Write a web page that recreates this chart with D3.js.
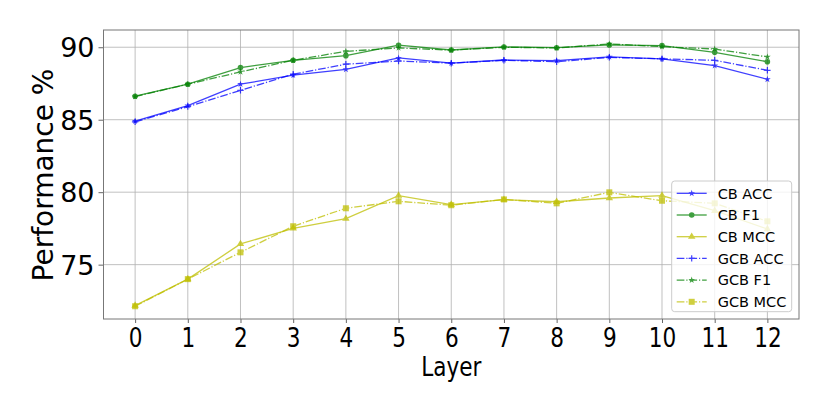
<!DOCTYPE html>
<html><head><meta charset="utf-8">
<script src="https://cdn.jsdelivr.net/npm/d3@7"></script>
<style>body{margin:0;background:#fff}svg{display:block;font-family:"DejaVu Sans",sans-serif}</style>
</head><body><svg id="c" width="830" height="415"></svg>
<script>
const layers = [0,1,2,3,4,5,6,7,8,9,10,11,12];
const cbAcc  = [84.9,85.97,87.45,88.07,88.48,89.26,88.9,89.12,89.08,89.33,89.2,88.73,87.79];
const cbF1   = [86.62,87.45,88.6,89.1,89.42,90.14,89.81,90.02,89.97,90.16,90.11,89.65,89.0];
const cbMcc  = [72.17,74.0,76.43,77.5,78.17,79.76,79.14,79.48,79.34,79.6,79.76,78.72,77.46];
const gcbAcc = [84.85,85.9,87.03,88.14,88.83,89.05,88.9,89.1,89.0,89.3,89.2,89.1,88.41];
const gcbF1  = [86.6,87.45,88.3,89.1,89.72,89.95,89.8,90.0,89.95,90.23,90.04,89.88,89.33];
const gcbMcc = [72.13,74.0,75.85,77.65,78.89,79.37,79.1,79.5,79.23,79.99,79.41,79.23,77.99];
const yTicks = [75,80,85,90];
const seriesNames = ["CB ACC","CB F1","CB MCC","GCB ACC","GCB F1","GCB MCC"];

const series = [
  {name:seriesNames[0], v:cbAcc,  color:"#0000ff", dash:null, marker:"star"},
  {name:seriesNames[1], v:cbF1,   color:"#008000", dash:null, marker:"circle"},
  {name:seriesNames[2], v:cbMcc,  color:"#bfbf00", dash:null, marker:"triangle"},
  {name:seriesNames[3], v:gcbAcc, color:"#0000ff", dash:"7.7,1.9,1.2,1.9", marker:"plus"},
  {name:seriesNames[4], v:gcbF1,  color:"#008000", dash:"7.7,1.9,1.2,1.9", marker:"star"},
  {name:seriesNames[5], v:gcbMcc, color:"#bfbf00", dash:"7.7,1.9,1.2,1.9", marker:"square"}
];

const L=103.5, R=799, T=30, B=319;
const svg = d3.select("#c");
const x = d3.scaleLinear().domain([-0.6,12.6]).range([L,R]);
const y = d3.scaleLinear().domain([71.25,91.19]).range([B,T]);

// grid
const g = svg.append("g");
g.selectAll(".gx").data(layers).join("line")
  .attr("x1",d=>x(d)).attr("x2",d=>x(d)).attr("y1",T).attr("y2",B)
  .attr("stroke","#b0b0b0").attr("stroke-opacity",0.8).attr("stroke-width",1);
g.selectAll(".gy").data(yTicks).join("line")
  .attr("y1",d=>y(d)).attr("y2",d=>y(d)).attr("x1",L).attr("x2",R)
  .attr("stroke","#b0b0b0").attr("stroke-opacity",0.8).attr("stroke-width",1);

// axes
const xAx = svg.append("g").attr("transform",`translate(0,${B})`)
  .call(d3.axisBottom(x).tickValues(layers).tickFormat(d3.format("d")).tickSize(4).tickPadding(3));
const yAx = svg.append("g").attr("transform",`translate(${L},0)`)
  .call(d3.axisLeft(y).tickValues(yTicks).tickSize(5).tickPadding(4));
[xAx,yAx].forEach(a=>{a.select(".domain").remove(); a.selectAll("line").attr("stroke","#666");
  a.selectAll("text").attr("fill","#000").style("font-family","DejaVu Sans").style("font-size","27px");});
xAx.selectAll("text").attr("dy",null).attr("y",28)
  .attr("transform",function(){return null;})
  .each(function(d){d3.select(this).attr("transform",`translate(${x(d)},0) scale(0.8,1) translate(${-x(d)},0)`);});
xAx.selectAll(".tick text").attr("x",0);
xAx.selectAll(".tick").each(function(d){
  const t=d3.select(this).select("text");
  t.attr("transform","scale(0.8,1)");
});
yAx.selectAll("text").attr("dy","0.35em");

svg.append("rect").attr("x",L).attr("y",T).attr("width",R-L).attr("height",B-T)
  .attr("fill","none").attr("stroke","#777").attr("stroke-width",1);

// labels
svg.append("text").attr("x",(L+R)/2).attr("y",376).attr("text-anchor","middle")
  .attr("transform",`translate(${(L+R)/2},0) scale(0.8,1) translate(${-(L+R)/2},0)`)
  .style("font-size","27px").text("Layer");
svg.append("text").attr("transform","translate(53,175) rotate(-90)").attr("text-anchor","middle")
  .style("font-size","28px").text("Performance %");

// markers
function drawMarker(sel, type, color, s){
  if(type==="circle") return sel.append("circle").attr("r",2.8*s).attr("fill",color);
  if(type==="square") return sel.append("rect").attr("x",-3*s).attr("y",-3*s).attr("width",6*s).attr("height",6*s).attr("fill",color);
  if(type==="triangle") return sel.append("path").attr("d",d3.symbol(d3.symbolTriangle,24*s*s)()).attr("fill",color);
  if(type==="star") return sel.append("path").attr("d",d3.symbol(d3.symbolStar,14*s*s)()).attr("fill",color);
  if(type==="plus") return sel.append("path").attr("d",`M${-3.2*s},0H${3.2*s}M0,${-3.2*s}V${3.2*s}`).attr("stroke",color).attr("stroke-width",1.2);
}

const line = d3.line().x((d,i)=>x(layers[i])).y(d=>y(d));
series.forEach(s=>{
  const sg = svg.append("g").attr("opacity",0.75);
  sg.append("path").attr("d",line(s.v)).attr("fill","none").attr("stroke",s.color)
    .attr("stroke-width",1.3).attr("stroke-dasharray",s.dash);
  s.v.forEach((v,i)=>{
    const m = sg.append("g").attr("transform",`translate(${x(layers[i])},${y(v)})`);
    drawMarker(m,s.marker,s.color,1);
  });
});

// legend
const lg = svg.append("g");
lg.append("rect").attr("x",671.7).attr("y",181).attr("width",120).attr("height",130.7).attr("rx",3)
  .attr("fill","#fff").attr("fill-opacity",0.8).attr("stroke","#ccc").attr("stroke-width",1);
series.forEach((s,i)=>{
  const yy = 193.3 + i*21.7;
  const e = lg.append("g").attr("opacity",0.75);
  e.append("line").attr("x1",676.7).attr("x2",706.7).attr("y1",yy).attr("y2",yy)
    .attr("stroke",s.color).attr("stroke-width",1.3).attr("stroke-dasharray",s.dash);
  drawMarker(e.append("g").attr("transform",`translate(691.7,${yy})`), s.marker, s.color, 1);
  lg.append("text").attr("x",717.7).attr("y",yy).attr("dy","0.36em").style("font-size","14.5px").text(s.name);
});
</script></body></html>
